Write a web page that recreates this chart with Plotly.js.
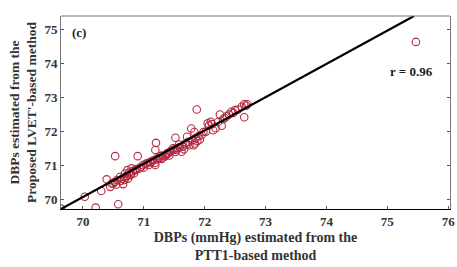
<!DOCTYPE html>
<html>
<head>
<meta charset="utf-8">
<script src="https://cdn.plot.ly/plotly-3.0.1.min.js"></script>
<style>html,body{margin:0;padding:0;background:#fff;}#chart{width:457px;height:267px;}</style>
</head>
<body>
<div id="chart"></div>
<script>
// DBPs estimated from the PTT1-based method (x) vs the proposed LVET'-based method (y)
const ptt1DBP = [69.64,70.03,70.21,70.30,70.39,70.45,70.53,70.58,70.50,70.56,70.61,70.66,70.69,70.73,70.78,70.80,70.86,70.90,70.93,70.99,71.05,71.10,71.19,71.20,71.19,71.21,71.27,71.32,71.38,71.43,71.48,71.52,71.54,71.59,71.62,71.68,71.71,71.75,71.78,71.83,71.84,71.87,71.90,71.92,71.98,72.05,72.10,72.14,72.25,72.28,72.30,72.36,72.44,72.50,72.65,72.65,72.70,72.61,
70.62,70.65,70.68,70.70,70.72,70.74,70.76,70.79,70.82,70.84,70.88,70.95,71.00,71.03,71.08,71.12,71.15,71.18,71.22,71.25,71.29,71.30,71.35,71.37,71.40,71.42,71.45,71.50,71.52,71.56,71.58,71.64,71.66,71.70,71.73,71.80,71.82,71.86,71.88,71.95,72.02,72.07,72.12,72.18,72.22,72.33,72.40,72.47,72.55,72.68,70.47,70.52,70.55,75.47];
const lvetDBP = [69.74,70.09,69.77,70.26,70.60,70.38,71.28,69.87,70.48,70.58,70.67,70.46,70.77,70.87,70.72,70.92,70.87,71.28,70.92,71.02,71.07,71.11,71.02,71.67,71.46,71.21,71.28,71.24,71.36,71.41,71.51,71.82,71.46,71.55,71.41,71.65,71.85,71.60,72.09,71.99,71.65,72.65,71.87,71.77,71.99,72.24,72.29,72.04,72.50,72.17,72.36,72.45,72.58,72.63,72.42,72.80,72.80,72.73,
70.55,70.62,70.58,70.65,70.70,70.62,70.80,70.75,70.84,70.78,70.90,70.96,70.95,71.05,71.02,71.10,71.15,71.08,71.18,71.22,71.20,71.30,71.28,71.33,71.36,71.30,71.44,71.48,71.40,71.52,71.62,71.56,71.48,71.62,71.70,71.75,71.60,71.82,71.72,71.90,72.00,72.18,72.22,72.10,72.28,72.40,72.50,72.55,72.65,72.76,70.48,70.52,70.45,74.63];
// fitted line end points
const fitX = [69.64, 75.44];
const fitY = [69.73, 75.39];
const xTicks = [70,71,72,73,74,75,76];
const yTicks = [70,71,72,73,74,75];
const rLabel = 'r = 0.96';
const panelLabel = '(c)';

const font = {family: '"Liberation Serif", "Times New Roman", serif', color: '#222'};
const data = [
  {x: ptt1DBP, y: lvetDBP, type: 'scatter', mode: 'markers',
   marker: {symbol: 'circle-open', size: 7.5, color: '#b3283f', line: {width: 1.1, color: '#b3283f'}},
   showlegend: false, hoverinfo: 'skip'},
  {x: fitX, y: fitY, type: 'scatter', mode: 'lines',
   line: {color: '#000', width: 2.2}, showlegend: false, hoverinfo: 'skip'}
];
const layout = {
  width: 457, height: 267,
  margin: {l: 61, r: 7, t: 16, b: 58},
  paper_bgcolor: '#fff', plot_bgcolor: '#fff',
  font: font,
  xaxis: {range: [69.64, 76.03], tickvals: xTicks, ticktext: xTicks.map(String),
    showgrid: false, zeroline: false, showline: true, linecolor: '#000', linewidth: 1.2,
    ticks: 'inside', ticklen: 3, tickcolor: '#555', mirror: false,
    tickfont: {family: font.family, size: 13, color: '#333', weight: 'bold'},
    title: {text: '<b>DBPs (mmHg) estimated from the<br>PTT1-based method</b>', standoff: 4,
      font: {family: font.family, size: 14, color: '#333'}}},
  yaxis: {range: [69.73, 75.39], tickvals: yTicks, ticktext: yTicks.map(String),
    showgrid: false, zeroline: false, showline: true, linecolor: '#777', linewidth: 1,
    ticks: 'inside', ticklen: 3, tickcolor: '#555', mirror: 'ticks',
    tickfont: {family: font.family, size: 13, color: '#333', weight: 'bold'},
    title: {text: '<b>DBPs estimated from the<br>Proposed LVET\'-based method</b>', standoff: 4,
      font: {family: font.family, size: 13.5, color: '#333'}}},
  shapes: [{type: 'line', xref: 'paper', yref: 'paper', x0: 0, x1: 1, y0: 1, y1: 1,
    line: {color: '#777', width: 1}}],
  annotations: [
    {text: '<b>' + panelLabel + '</b>', xref: 'paper', yref: 'paper', x: 0.022, y: 0.915,
     xanchor: 'left', yanchor: 'middle', showarrow: false, font: {family: font.family, size: 13, color: '#222'}},
    {text: '<b>' + rLabel + '</b>', xref: 'paper', yref: 'paper', x: 0.9, y: 0.715,
     xanchor: 'center', yanchor: 'middle', showarrow: false, font: {family: font.family, size: 13, color: '#222'}}
  ]
};
Plotly.newPlot('chart', data, layout, {displayModeBar: false, staticPlot: true});
</script>
</body>
</html>
